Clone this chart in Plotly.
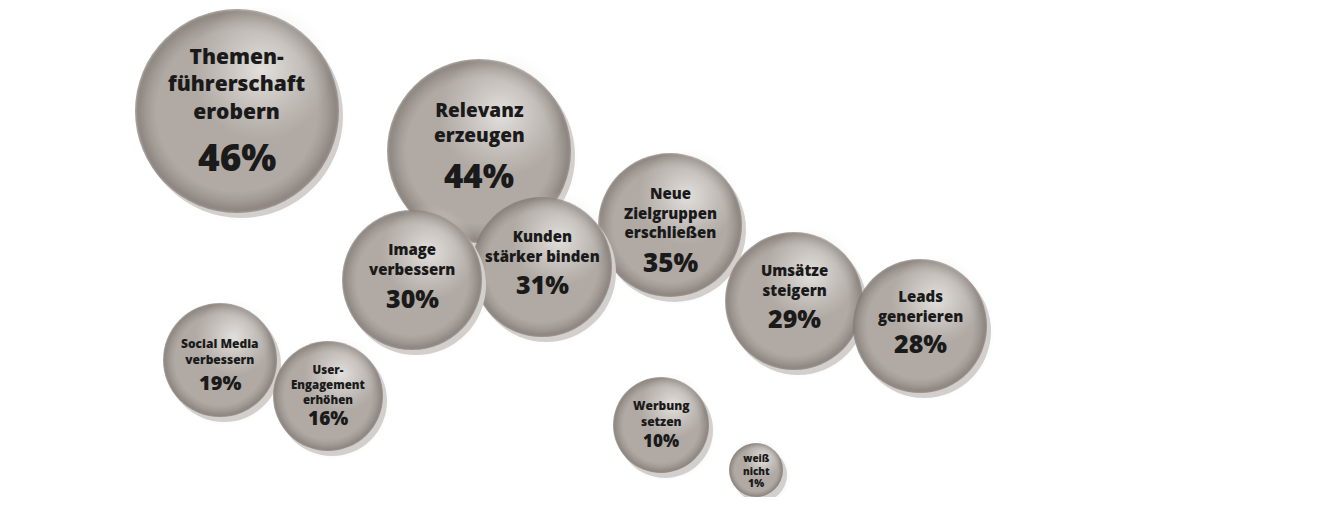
import plotly.graph_objects as go

# bubble data (positions in plot units = pixels of the 1325x505 canvas)
labels = [
    "Themen-<br>führerschaft<br>erobern",
    "Relevanz<br>erzeugen",
    "Neue<br>Zielgruppen<br>erschließen",
    "Kunden<br>stärker binden",
    "Image<br>verbessern",
    "Umsätze<br>steigern",
    "Leads<br>generieren",
    "Social Media<br>verbessern",
    "User-<br>Engagement<br>erhöhen",
    "Werbung<br>setzen",
    "weiß<br>nicht",
]
values = [46, 44, 35, 31, 30, 29, 28, 19, 16, 10, 1]
x_pos = [237, 479, 670, 542, 412, 794, 920, 220, 328, 661, 756]
y_pos = [111, 151, 225, 267, 280, 301, 326, 360, 396, 425, 470]

# styling per bubble
diam = [204, 184, 144, 140, 140, 138, 134, 114, 110, 96, 54]
label_size = [21, 19, 15, 15, 15, 15, 15, 12, 11.5, 12, 10]
pct_size = [37, 33, 26, 25, 25, 25, 25, 20, 19, 17, 10.5]
label_dy = [-28, -29, -13, -21, -21, -21, -20, -9, -12, -12, -6]
pct_dy = [45, 24, 37, 17, 18, 17, 17, 22, 22, 15, 13]

# drawing order (back to front)
order = [0, 1, 2, 3, 4, 5, 6, 7, 8, 9, 10]

FONT = "Open Sans"
TXT = "#1a1a1a"
EDGE = (128, 120, 115)
MID = (176, 170, 165)


def mix(a, b, t):
    return "rgb(%d,%d,%d)" % tuple(round(a[k] + (b[k] - a[k]) * t) for k in range(3))


fig = go.Figure()


def dot(x, y, size, edge, centre):
    fig.add_trace(go.Scatter(
        x=[x], y=[y], mode="markers", hoverinfo="skip",
        marker=dict(size=size, color=edge,
                    gradient=dict(type="radial", color=centre),
                    line=dict(width=0)),
    ))


for i in order:
    x, y, d = x_pos[i], y_pos[i], diam[i]
    r = d / 2
    # soft drop shadow (lower right)
    dot(x + 5, y + 6, d + 6, "rgba(208,205,202,0)", "rgba(208,205,202,1)")
    dot(x + 4, y + 5, d, "rgb(210,207,204)", "rgb(210,207,204)")
    # sphere body: concentric rings darkening towards the rim
    steps = 14
    sizes = [d * (1 - 0.2 * k / steps) for k in range(steps + 1)]
    cols = [mix(EDGE, MID, (k / steps) ** 0.55) for k in range(steps + 1)]
    fig.add_trace(go.Scatter(
        x=[x] * len(sizes), y=[y] * len(sizes), mode="markers", hoverinfo="skip",
        marker=dict(size=sizes, color=cols, line=dict(width=0)),
    ))
    # glow towards upper right
    dot(x + r * 0.24, y - r * 0.4, d * 0.68, "rgba(228,225,222,0)", "rgba(232,229,226,0.9)")

for i in order:
    x, y = x_pos[i], y_pos[i]
    fig.add_annotation(
        x=x, y=y, yshift=-label_dy[i], text=labels[i], showarrow=False,
        font=dict(family=FONT, size=label_size[i], color=TXT, weight=800),
    )
    fig.add_annotation(
        x=x, y=y, yshift=-pct_dy[i], text="%d%%" % values[i], showarrow=False,
        font=dict(family=FONT, size=pct_size[i], color=TXT, weight=800),
    )

# the page body has an 8px margin, so shift the ranges to keep 1 unit = 1 px
fig.update_layout(
    width=1309, height=489,
    margin=dict(l=0, r=0, t=0, b=0),
    paper_bgcolor="white", plot_bgcolor="white",
    showlegend=False,
    xaxis=dict(range=[8, 1317], visible=False),
    yaxis=dict(range=[497, 8], visible=False),
)

fig.write_html("out.html")
